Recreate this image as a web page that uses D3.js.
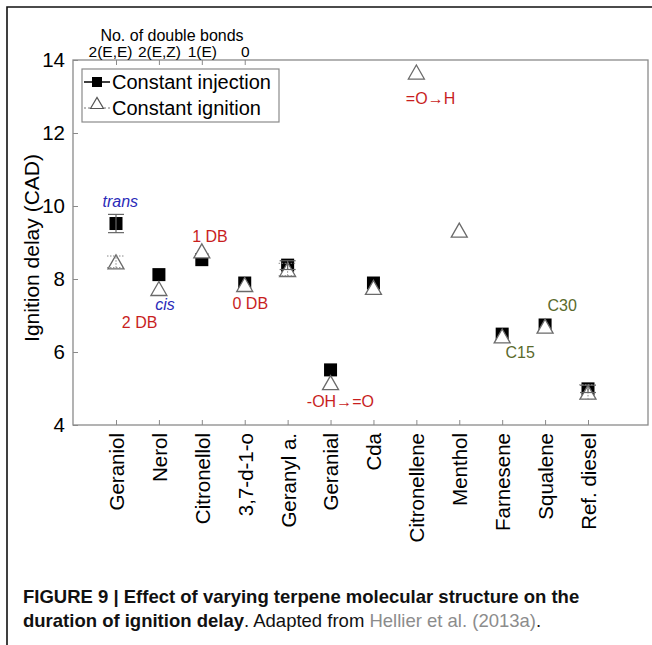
<!DOCTYPE html>
<html>
<head>
<script src="https://d3js.org/d3.v7.min.js"></script>
<style>
 body { margin: 0; background: #fff; }
 svg { display: block; font-family: "Liberation Sans", Arial, sans-serif; }
</style>
</head>
<body>
<svg width="652" height="645"></svg>
<script>
 // ---- data ----
 const categories = ["Geraniol", "Nerol", "Citronellol", "3,7-d-1-o", "Geranyl a.", "Geranial",
                     "Cda", "Citronellene", "Menthol", "Farnesene", "Squalene", "Ref. diesel"];
 // constant injection (null = no point)
 const injection = [9.52, 8.12, 8.53, 7.89, 8.38, 5.51, 7.89, null, null, 6.49, 6.74, 4.99];
 const injectionErr = [0.25, 0, 0, 0, 0.12, 0, 0, 0, 0, 0, 0, 0.1];
 // constant ignition
 const ignition = [8.47, 7.74, 8.77, 7.85, 8.26, 5.16, 7.77, 13.67, 9.34, 6.44, 6.71, 4.9];
 const ignitionErr = [0.16, 0, 0, 0, 0.17, 0, 0, 0, 0, 0, 0, 0.2];

 const bondTicks = ["Geraniol", "Nerol", "Citronellol", "3,7-d-1-o"];
 const bondLabels = ["2(E,E)", "2(E,Z)", "1(E)", "0"];
 const yTicks = [4, 6, 8, 10, 12, 14];

 // annotations: category, shift in category units, baseline value, colour, italic
 const notes = [
   {t: "trans", cat: "Geraniol", dx: 0.1, v: 9.97, c: "#2a2ab8", it: true},
   {t: "cis", cat: "Nerol", dx: 0.14, v: 7.15, c: "#2a2ab8", it: true},
   {t: "2 DB", cat: "Nerol", dx: -0.45, v: 6.66, c: "#c81e1e"},
   {t: "1 DB", cat: "Citronellol", dx: 0.19, v: 9.01, c: "#c81e1e"},
   {t: "0 DB", cat: "3,7-d-1-o", dx: 0.13, v: 7.18, c: "#c81e1e"},
   {t: "-OH\u2192=O", cat: "Geranial", dx: 0.23, v: 4.49, c: "#c81e1e"},
   {t: "=O\u2192H", cat: "Citronellene", dx: 0.33, v: 12.79, c: "#c81e1e"},
   {t: "C15", cat: "Farnesene", dx: 0.42, v: 5.84, c: "#5a6a2c"},
   {t: "C30", cat: "Squalene", dx: 0.4, v: 7.12, c: "#5a6a2c"}
 ];

 const svg = d3.select("svg");
 const axisGrey = "#8a8a8a";
 const plot = {left: 73, right: 648, top: 60, bottom: 425};

 // outer frame of the figure panel
 svg.append("path")
    .attr("d", "M7,645 L7,7 L652,7")
    .attr("fill", "none").attr("stroke", "#111").attr("stroke-width", 1.6);

 const x = d3.scalePoint().domain(categories).range([116, 588]);
 const y = d3.scaleLinear().domain([4, 14]).range([plot.bottom, plot.top]);
 const step = x.step();

 // plot box
 svg.append("rect")
    .attr("x", plot.left).attr("y", plot.top)
    .attr("width", plot.right - plot.left).attr("height", plot.bottom - plot.top)
    .attr("fill", "none").attr("stroke", axisGrey).attr("stroke-width", 1.3);

 // left axis
 const yAxis = svg.append("g")
    .attr("transform", `translate(${plot.left},0)`)
    .call(d3.axisLeft(y).tickValues(yTicks).tickSize(-5).tickPadding(8));
 yAxis.select(".domain").remove();
 yAxis.selectAll("line").attr("stroke", axisGrey);
 yAxis.selectAll("text").attr("font-size", 20.5).attr("fill", "#000")
      .attr("font-family", "Liberation Sans, Arial, sans-serif");

 // bottom axis
 const xAxis = svg.append("g")
    .attr("transform", `translate(0,${plot.bottom})`)
    .call(d3.axisBottom(x).tickSize(-5).tickSizeOuter(0));
 xAxis.select(".domain").remove();
 xAxis.selectAll("line").attr("stroke", axisGrey);
 xAxis.selectAll("text")
      .attr("font-size", 20.5).attr("fill", "#000")
      .attr("font-family", "Liberation Sans, Arial, sans-serif")
      .attr("text-anchor", "end")
      .attr("transform", "rotate(-90)")
      .attr("x", -8).attr("y", 0).attr("dy", "0.36em");

 // top axis: number of double bonds
 const topAxis = svg.append("g")
    .attr("transform", `translate(0,${plot.top})`)
    .call(d3.axisTop(x).tickValues(bondTicks).tickSize(-5).tickPadding(3)
          .tickFormat((d, i) => bondLabels[i]));
 topAxis.select(".domain").remove();
 topAxis.selectAll("line").attr("stroke", axisGrey);
 topAxis.selectAll("text").attr("font-size", 15.5).attr("fill", "#000")
        .attr("font-family", "Liberation Sans, Arial, sans-serif")
        .attr("dx", (d, i) => i === 0 ? -6 : 0);

 svg.append("text")
    .attr("x", 172).attr("y", 41)
    .attr("text-anchor", "middle").attr("font-size", 16)
    .text("No. of double bonds");

 // y label
 svg.append("text")
    .attr("transform", `translate(39,248) rotate(-90)`)
    .attr("text-anchor", "middle").attr("font-size", 21)
    .text("Ignition delay (CAD)");

 const tri = (cx, cy, w, h) =>
   `M${cx - w / 2},${cy + h / 2} L${cx},${cy - h / 2} L${cx + w / 2},${cy + h / 2} Z`;

 const injData = categories.map((c, i) => ({c, v: injection[i], e: injectionErr[i]}))
                           .filter(d => d.v !== null);
 const ignData = categories.map((c, i) => ({c, v: ignition[i], e: ignitionErr[i]}));

 // error bars, injection (solid)
 const errG = svg.append("g");
 injData.filter(d => d.e > 0).forEach(d => {
   const cx = x(d.c);
   [d.v - d.e, d.v + d.e].forEach(v => {
     errG.append("line").attr("x1", cx - 8).attr("x2", cx + 8)
         .attr("y1", y(v)).attr("y2", y(v))
         .attr("stroke", "#666").attr("stroke-width", 1.2);
   });
   errG.append("line").attr("x1", cx).attr("x2", cx)
       .attr("y1", y(d.v - d.e)).attr("y2", y(d.v + d.e))
       .attr("stroke", "#666").attr("stroke-width", 1.2);
 });

 // squares
 svg.append("g").selectAll("rect")
    .data(injData)
    .join("rect")
    .attr("x", d => x(d.c) - 6.5)
    .attr("y", d => y(d.v) - 6.5)
    .attr("width", 13).attr("height", 13)
    .attr("fill", "#000");

 // triangles
 svg.append("g").selectAll("path")
    .data(ignData)
    .join("path")
    .attr("d", d => tri(x(d.c), y(d.v), 16, 14))
    .attr("fill", "#fff").attr("stroke", "#6a6a6a").attr("stroke-width", 1.3);

 // error bars, ignition (dotted)
 ignData.filter(d => d.e > 0).forEach(d => {
   const cx = x(d.c);
   [d.v - d.e, d.v + d.e].forEach(v => {
     errG.append("line").attr("x1", cx - 9).attr("x2", cx + 9)
         .attr("y1", y(v)).attr("y2", y(v))
         .attr("stroke", "#888").attr("stroke-width", 1).attr("stroke-dasharray", "1.5,1.5");
   });
   svg.append("line").attr("x1", cx).attr("x2", cx)
      .attr("y1", y(d.v - d.e)).attr("y2", y(d.v + d.e))
      .attr("stroke", "#888").attr("stroke-width", 1).attr("stroke-dasharray", "1.5,1.5");
 });
 errG.raise();

 // annotations
 svg.append("g").selectAll("text")
    .data(notes)
    .join("text")
    .attr("x", d => x(d.cat) + d.dx * step)
    .attr("y", d => y(d.v))
    .attr("text-anchor", "middle")
    .attr("font-size", 16)
    .attr("font-style", d => d.it ? "italic" : "normal")
    .attr("fill", d => d.c)
    .text(d => d.t);

 // legend
 const lg = svg.append("g");
 lg.append("rect").attr("x", 82).attr("y", 69).attr("width", 197).attr("height", 53)
   .attr("fill", "#fff").attr("stroke", axisGrey).attr("stroke-width", 1.2);
 lg.append("line").attr("x1", 84).attr("x2", 110).attr("y1", 82).attr("y2", 82)
   .attr("stroke", "#000").attr("stroke-width", 1.5);
 lg.append("rect").attr("x", 92).attr("y", 77).attr("width", 10).attr("height", 10).attr("fill", "#000");
 lg.append("line").attr("x1", 84).attr("x2", 110).attr("y1", 108).attr("y2", 108)
   .attr("stroke", "#777").attr("stroke-width", 1).attr("stroke-dasharray", "2,2");
 lg.append("path").attr("d", tri(97, 103, 13, 11))
   .attr("fill", "#fff").attr("stroke", "#555").attr("stroke-width", 1.2);
 lg.append("text").attr("x", 112).attr("y", 89).attr("font-size", 20).text("Constant injection");
 lg.append("text").attr("x", 112).attr("y", 115).attr("font-size", 20).text("Constant ignition");

 // caption
 const capFont = "'Liberation Sans Narrow', 'Arial Narrow', 'Liberation Sans', Arial, sans-serif";
 svg.append("text")
    .attr("x", 23).attr("y", 603)
    .attr("font-family", capFont).attr("font-size", 18.5).attr("font-weight", "bold")
    .attr("fill", "#111")
    .text("FIGURE 9 | Effect of varying terpene molecular structure on the");
 const cap2 = svg.append("text")
    .attr("x", 23).attr("y", 627)
    .attr("font-family", capFont).attr("font-size", 18.5).attr("fill", "#111");
 cap2.append("tspan").attr("font-weight", "bold").text("duration of ignition delay");
 cap2.append("tspan").text(". Adapted from ");
 cap2.append("tspan").attr("fill", "#8c8c8c").text("Hellier et al. (2013a)");
 cap2.append("tspan").text(".");
</script>
</body>
</html>
